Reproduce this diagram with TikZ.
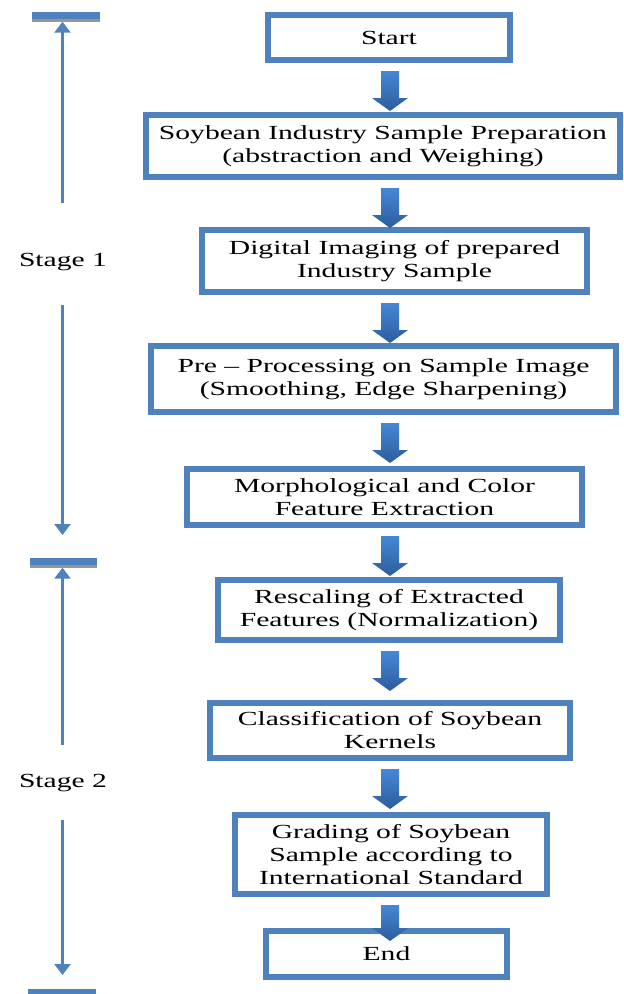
\documentclass[tikz,border=0pt]{standalone}
\usepackage{fontspec}
\setmainfont[FakeStretch=1.48]{Liberation Serif}
\usetikzlibrary{arrows.meta,calc}
\definecolor{boxblue}{RGB}{79,129,189}
\definecolor{arrtop}{RGB}{70,136,214}
\definecolor{arrbot}{RGB}{44,92,158}
\definecolor{shadowgray}{RGB}{150,150,150}
\tikzset{
  flowbox/.style={draw=boxblue, line width=6pt, fill=white, align=center,
    inner sep=0pt, font=\fontsize{20}{23}\selectfont},
  blockarrowstyle/.style={top color=arrtop, bottom color=arrbot, draw=none},
  stagebar/.style={fill=boxblue, draw=none, inner sep=0pt, minimum height=7pt},
  stageline/.style={draw=boxblue, line width=2.5pt, -{Triangle[width=16pt,length=11pt]}},
  stagelabel/.style={font=\fontsize{20}{23}\selectfont, inner sep=0pt}
}
\newcommand{\blockarrow}[3][40]{%
  \path[blockarrowstyle] let \p1=(#2.south), \p3=(axis) in
    (\x3-9pt,\y1-8pt) -- (\x3+9pt,\y1-8pt) -- (\x3+9pt,\y1-8pt-#1pt+13pt)
    -- (\x3+18pt,\y1-8pt-#1pt+13pt) -- (\x3,\y1-8pt-#1pt)
    -- (\x3-18pt,\y1-8pt-#1pt+13pt) -- (\x3-9pt,\y1-8pt-#1pt+13pt) -- cycle;
}
\begin{document}
\begin{tikzpicture}[x=1pt,y=-1pt]
\useasboundingbox (0,0) rectangle (624,994);
\coordinate (axis) at (390,0);

% flow boxes (sizes = outer size - line width)
\node[flowbox, minimum width=242pt, minimum height=45pt] (start) at (389,37.5) {Start};
\node[flowbox, minimum width=474pt, minimum height=62pt] (prep) at (383,146)
  {Soybean Industry Sample Preparation\\(abstraction and Weighing)};
\node[flowbox, minimum width=385pt, minimum height=62pt] (imaging) at (394.5,261)
  {Digital Imaging of prepared\\Industry Sample};
\node[flowbox, minimum width=465pt, minimum height=66pt] (preproc) at (383.5,379)
  {Pre -- Processing on Sample Image\\(Smoothing, Edge Sharpening)};
\node[flowbox, minimum width=395pt, minimum height=56pt] (morph) at (384.5,497)
  {Morphological and Color\\Feature Extraction};
\node[flowbox, minimum width=342pt, minimum height=60pt] (rescale) at (389,610)
  {Rescaling of Extracted\\Features (Normalization)};
\node[flowbox, minimum width=360pt, minimum height=55pt] (classify) at (390,730.5)
  {Classification of Soybean\\Kernels};
\node[flowbox, minimum width=312pt, minimum height=79pt] (grading) at (391,854.5)
  {Grading of Soybean\\Sample according to\\International Standard};
\node[flowbox, minimum width=241pt, minimum height=46pt] (end) at (386.5,954) {End};

% block arrows
\blockarrow{start}{prep}
\blockarrow{prep}{imaging}
\blockarrow{imaging}{preproc}
\blockarrow{preproc}{morph}
\blockarrow{morph}{rescale}
\blockarrow{rescale}{classify}
\blockarrow{classify}{grading}
\blockarrow[36]{grading}{end}

% stage bars
\node[stagebar, minimum width=68pt] (bar1) at (66,15.5) {};
\node[stagebar, minimum width=67pt] (bar2) at (63.5,561.5) {};
\node[stagebar, minimum width=68pt] (bar3) at (62,992.5) {};
\fill[shadowgray] (bar1.south west) rectangle ([yshift=-2.5pt]bar1.south east);
\fill[shadowgray] (bar2.south west) rectangle ([yshift=-2.5pt]bar2.south east);

% stage labels
\node[stagelabel] (st1) at (63,262) {Stage 1};
\node[stagelabel] (st2) at (63,783) {Stage 2};

% stage lines
\coordinate (l1a) at (62.5,203);
\coordinate (l1b) at (62.5,305);
\coordinate (l1c) at (62.5,535);
\coordinate (l2a) at (62.5,745);
\coordinate (l2b) at (62.5,820);
\coordinate (l2c) at (62.5,975);
\draw[stageline, shorten >=2.5pt] (l1a) -- (l1a |- bar1.south);
\draw[stageline] (l1b) -- (l1c);
\draw[stageline, shorten >=2.5pt] (l2a) -- (l2a |- bar2.south);
\draw[stageline] (l2b) -- (l2c);
\end{tikzpicture}
\end{document}
